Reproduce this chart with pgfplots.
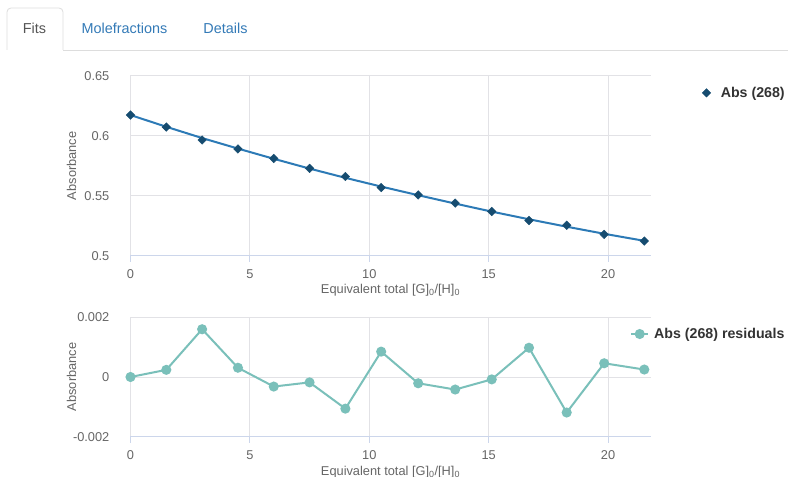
\documentclass[border=0pt]{standalone}
\usepackage{fontspec}
\setmainfont{Liberation Sans}
\usepackage{pgfplots}
\usepackage{pgfplotstable}
\pgfplotsset{compat=1.18}

\definecolor{tabborder}{RGB}{221,221,221}
\definecolor{tabgray}{RGB}{85,85,85}
\definecolor{tablink}{RGB}{51,122,183}
\definecolor{gridc}{RGB}{226,226,230}
\definecolor{axisc}{RGB}{204,214,235}
\definecolor{labelc}{RGB}{102,102,102}
\definecolor{legc}{RGB}{51,51,51}
\definecolor{fitc}{RGB}{44,122,182}
\definecolor{markc}{RGB}{22,76,112}
\definecolor{resc}{RGB}{122,192,186}

\pgfplotstableread{
x      y
0      0.6174
1.5    0.6074
3.0    0.5966
4.5    0.5891
6.0    0.5812
7.5    0.5729
9.0    0.5661
10.5   0.5569
12.05  0.5507
13.6   0.5439
15.13  0.5369
16.69  0.5294
18.27  0.5254
19.84  0.5178
21.52  0.5122
}\absdata

\pgfplotstableread{
x      y
0      0.6174
1.5    0.6076
3.0    0.5982
4.5    0.5894
6.0    0.5809
7.5    0.5727
9.0    0.5650
10.5   0.5577
12.05  0.5505
13.6   0.5435
15.13  0.5368
16.69  0.5304
18.27  0.5242
19.84  0.5183
21.52  0.5124
}\absfit

\pgfplotstableread{
x      y
0      0.0
1.5    0.00024
3.0    0.0016
4.5    0.00031
6.0    -0.00032
7.5    -0.00018
9.0    -0.00106
10.5   0.00085
12.05  -0.00021
13.6   -0.00042
15.13  -0.00008
16.69  0.00098
18.27  -0.00119
19.84  0.00046
21.52  0.00025
}\absres

\newcommand{\tickfont}{\fontsize{12.8}{15}\selectfont}
\newcommand{\titlefont}{\fontsize{12.8}{15}\selectfont}
\newcommand{\legfont}{\bfseries\fontsize{14.2}{16}\selectfont}

\pgfplotsset{
  diamleg/.style={legend image code/.code={\draw[##1] plot coordinates {(4pt,0pt)};}},
  lineleg/.style={legend image code/.code={\draw[##1, mark repeat=2, mark phase=2] plot coordinates {(0pt,0pt)(8.5pt,0pt)(17pt,0pt)};}},
  hc/.style={
    scale only axis,
    width=520pt,
    xmin=0, xmax=21.78,
    xtick={0,5,10,15,20},
    xticklabels={0,5,10,15,20},
    grid=major,
    major grid style={gridc, line width=1pt},
    axis x line*=bottom,
    axis y line*=left,
    y axis line style={draw=none},
    x axis line style={axisc, line width=1pt, -},
    tick align=outside,
    xtick style={axisc, line width=1pt},
    ytick style={draw=none},
    major tick length=6pt,
    scaled y ticks=false,
    xticklabel style={anchor=north, inner sep=0pt, yshift=-8pt, font=\tickfont, text=labelc},
    yticklabel style={anchor=east, inner sep=0pt, xshift=-15pt, font=\tickfont, text=labelc},
    every axis y label/.style={at={(axis description cs:-0.1135,0.5)}, rotate=90, anchor=center, font=\titlefont, text=labelc},
    xlabel={Equivalent total [G]\textsubscript{0}/[H]\textsubscript{0}},
    ylabel={Absorbance},
    legend cell align=left,
  }
}

\begin{document}
\begin{tikzpicture}
\useasboundingbox (0pt,0pt) rectangle (788pt,477pt);
\fill[white] (0pt,0pt) rectangle (788pt,477pt);
% tabs
\draw[tabborder, line width=0.8pt, rounded corners=4pt] (7pt,427pt) -- (7pt,469pt) -- (63pt,469pt) -- (63pt,427pt);
\draw[tabborder, line width=0.8pt] (63pt,427pt) -- (788pt,427pt);
\node[text=tabgray, font=\fontsize{14.4}{16}\selectfont] at (34.5pt,448.7pt) {Fits};
\node[text=tablink, font=\fontsize{14.4}{16}\selectfont] at (124.5pt,448.7pt) {Molefractions};
\node[text=tablink, font=\fontsize{14.4}{16}\selectfont] at (225.5pt,448.7pt) {Details};

\begin{axis}[hc,
  at={(130.5pt,221.3pt)}, anchor=south west,
  height=179.7pt,
  ymin=0.5, ymax=0.65,
  ytick={0.5,0.55,0.6,0.65},
  yticklabels={0.5,0.55,0.6,0.65},
  xlabel style={at={(axis description cs:0.5,-0.19)}, anchor=center, font=\titlefont, text=labelc},
  legend style={at={(axis description cs:1.099,0.906)}, anchor=west, draw=none, fill=none, inner sep=0pt,
    nodes={inner sep=0pt, text=legc, font=\legfont},
    /tikz/every odd column/.append style={column sep=10pt}},
]
\addplot[fitc, line width=2pt, forget plot] table[x=x,y=y] {\absfit};
\addplot[only marks, mark=diamond*, mark size=4.3pt, mark options={fill=markc, draw=markc, xscale=1.333}, diamleg]
  table[x=x,y=y] {\absdata};
\addlegendentry{Abs (268)}
\end{axis}

\begin{axis}[hc,
  at={(130.5pt,40.3pt)}, anchor=south west,
  height=119.4pt,
  ymin=-0.002, ymax=0.002,
  ytick={-0.002,0,0.002},
  yticklabels={-0.002,0,0.002},
  xlabel style={at={(axis description cs:0.5,-0.295)}, anchor=center, font=\titlefont, text=labelc},
  legend style={at={(axis description cs:0.9606,0.860)}, anchor=west, draw=none, fill=none, inner sep=0pt,
    nodes={inner sep=0pt, text=legc, font=\legfont},
    /tikz/every odd column/.append style={column sep=5pt}},
]
\addplot[resc, line width=2pt, mark=*, mark size=4pt, mark options={fill=resc, draw=resc}, lineleg]
  table[x=x,y=y] {\absres};
\addlegendentry{Abs (268) residuals}
\end{axis}
\end{tikzpicture}
\end{document}
